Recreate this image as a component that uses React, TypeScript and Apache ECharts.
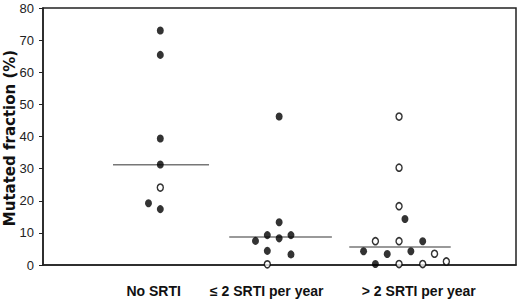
import React, { useEffect, useRef } from "react";
import * as echarts from "echarts";

// Group labels and their positions on the hidden x value axis
const categories = ["No SRTI", "\u2264 2 SRTI per year", "> 2 SRTI per year"];
const labelPositions = [0.936, 1.892, 3.178];
const groupCenters = [0.992, 1.897, 3.011];
const jitterStep = 0.1;
const yAxisTitle = "Mutated fraction (%)";

// Points: [group, jitter offset (steps), mutated fraction %]
const filledPoints: number[][] = [
  [0, 0, 73], [0, 0, 65.4], [0, 0, 39.4], [0, 0, 31.3], [0, -1, 19.2], [0, 0, 17.4],
  [1, 1, 46.2], [1, 1, 13.3], [1, 0, 9.3], [1, 2, 9.3], [1, -1, 7.5], [1, 1, 8.3], [1, 0, 4.4], [1, 2, 3.3],
  [2, 0.5, 14.3], [2, 2, 7.4], [2, -3, 4.3], [2, -1, 3.4], [2, 1, 4.3], [2, -2, 0.3],
];
const openPoints: number[][] = [
  [0, 0, 24.1],
  [1, 0, 0.2],
  [2, 0, 46.2], [2, 0, 30.3], [2, 0, 18.3], [2, -2, 7.4], [2, 0, 7.4], [2, 3, 3.5], [2, 0, 0.3], [2, 2, 0.3], [2, 4, 1.1],
];

// Median lines: value and horizontal extent on the x value axis
const medians = [31.2, 8.7, 5.6];
const medianStart = [0.592, 1.575, 2.59];
const medianEnd = [1.404, 2.443, 3.448];

const yTicks = [0, 10, 20, 30, 40, 50, 60, 70, 80];

const toXY = (p: number[]) => [groupCenters[p[0]] + p[1] * jitterStep, p[2]];

export default function App() {
  const ref = useRef<HTMLDivElement>(null);
  useEffect(() => {
    if (!ref.current) return;
    const chart = echarts.init(ref.current, undefined, { renderer: "svg" });
    chart.setOption({
      animation: false,
      backgroundColor: "#fff",
      grid: {
        left: 43,
        top: 8,
        right: 4,
        bottom: 36,
        containLabel: false,
        outerBoundsMode: "none",
        show: true,
        borderColor: "#222",
        borderWidth: 1.5,
        backgroundColor: "transparent",
      },
      graphic: [
        {
          type: "text",
          x: 10,
          y: 138,
          rotation: Math.PI / 2,
          style: {
            text: yAxisTitle,
            fontFamily: "DejaVu Sans",
            fontWeight: "bold",
            fontSize: 15,
            fill: "#111",
            align: "center",
            verticalAlign: "middle",
          },
        },
      ],
      xAxis: {
        type: "value",
        min: 0,
        max: 4,
        splitLine: { show: false },
        axisTick: { show: false },
        axisLine: { show: true, lineStyle: { color: "#222", width: 1.5 } },
        axisLabel: {
          customValues: labelPositions,
          formatter: (v: number) => {
            const i = labelPositions.findIndex((p) => Math.abs(p - v) < 1e-6);
            return i >= 0 ? categories[i] : "";
          },
          margin: 19,
          color: "#111",
          fontFamily: "Liberation Sans",
          fontWeight: "bold",
          fontSize: 14,
        },
      },
      yAxis: {
        type: "value",
        min: yTicks[0],
        max: yTicks[yTicks.length - 1],
        interval: 10,
        splitLine: { show: false },
        axisLine: { show: true, lineStyle: { color: "#222", width: 1.5 } },
        axisTick: { show: true, length: 4, inside: false, lineStyle: { color: "#222", width: 1 } },
        axisLabel: {
          margin: 9,
          color: "#222",
          fontFamily: "Liberation Sans",
          fontSize: 13,
        },
      },
      series: [
        ...medians.map((m, i) => ({
          type: "line",
          data: [[medianStart[i], m], [medianEnd[i], m]],
          symbol: "none",
          lineStyle: { color: "#777", width: 1.5 },
          z: 1,
        })),
        {
          type: "scatter",
          data: filledPoints.map(toXY),
          symbol: "circle",
          symbolSize: [7, 8],
          itemStyle: { color: "#000" },
          z: 3,
        },
        {
          type: "scatter",
          data: openPoints.map(toXY),
          symbol: "circle",
          symbolSize: [6, 7],
          itemStyle: { color: "#fff", borderColor: "#000", borderWidth: 1.5 },
          z: 3,
        },
      ],
    });
    return () => chart.dispose();
  }, []);
  return (
    <div
      ref={ref}
      style={{ position: "absolute", left: 0, top: 0, width: 520, height: 301 }}
    />
  );
}
